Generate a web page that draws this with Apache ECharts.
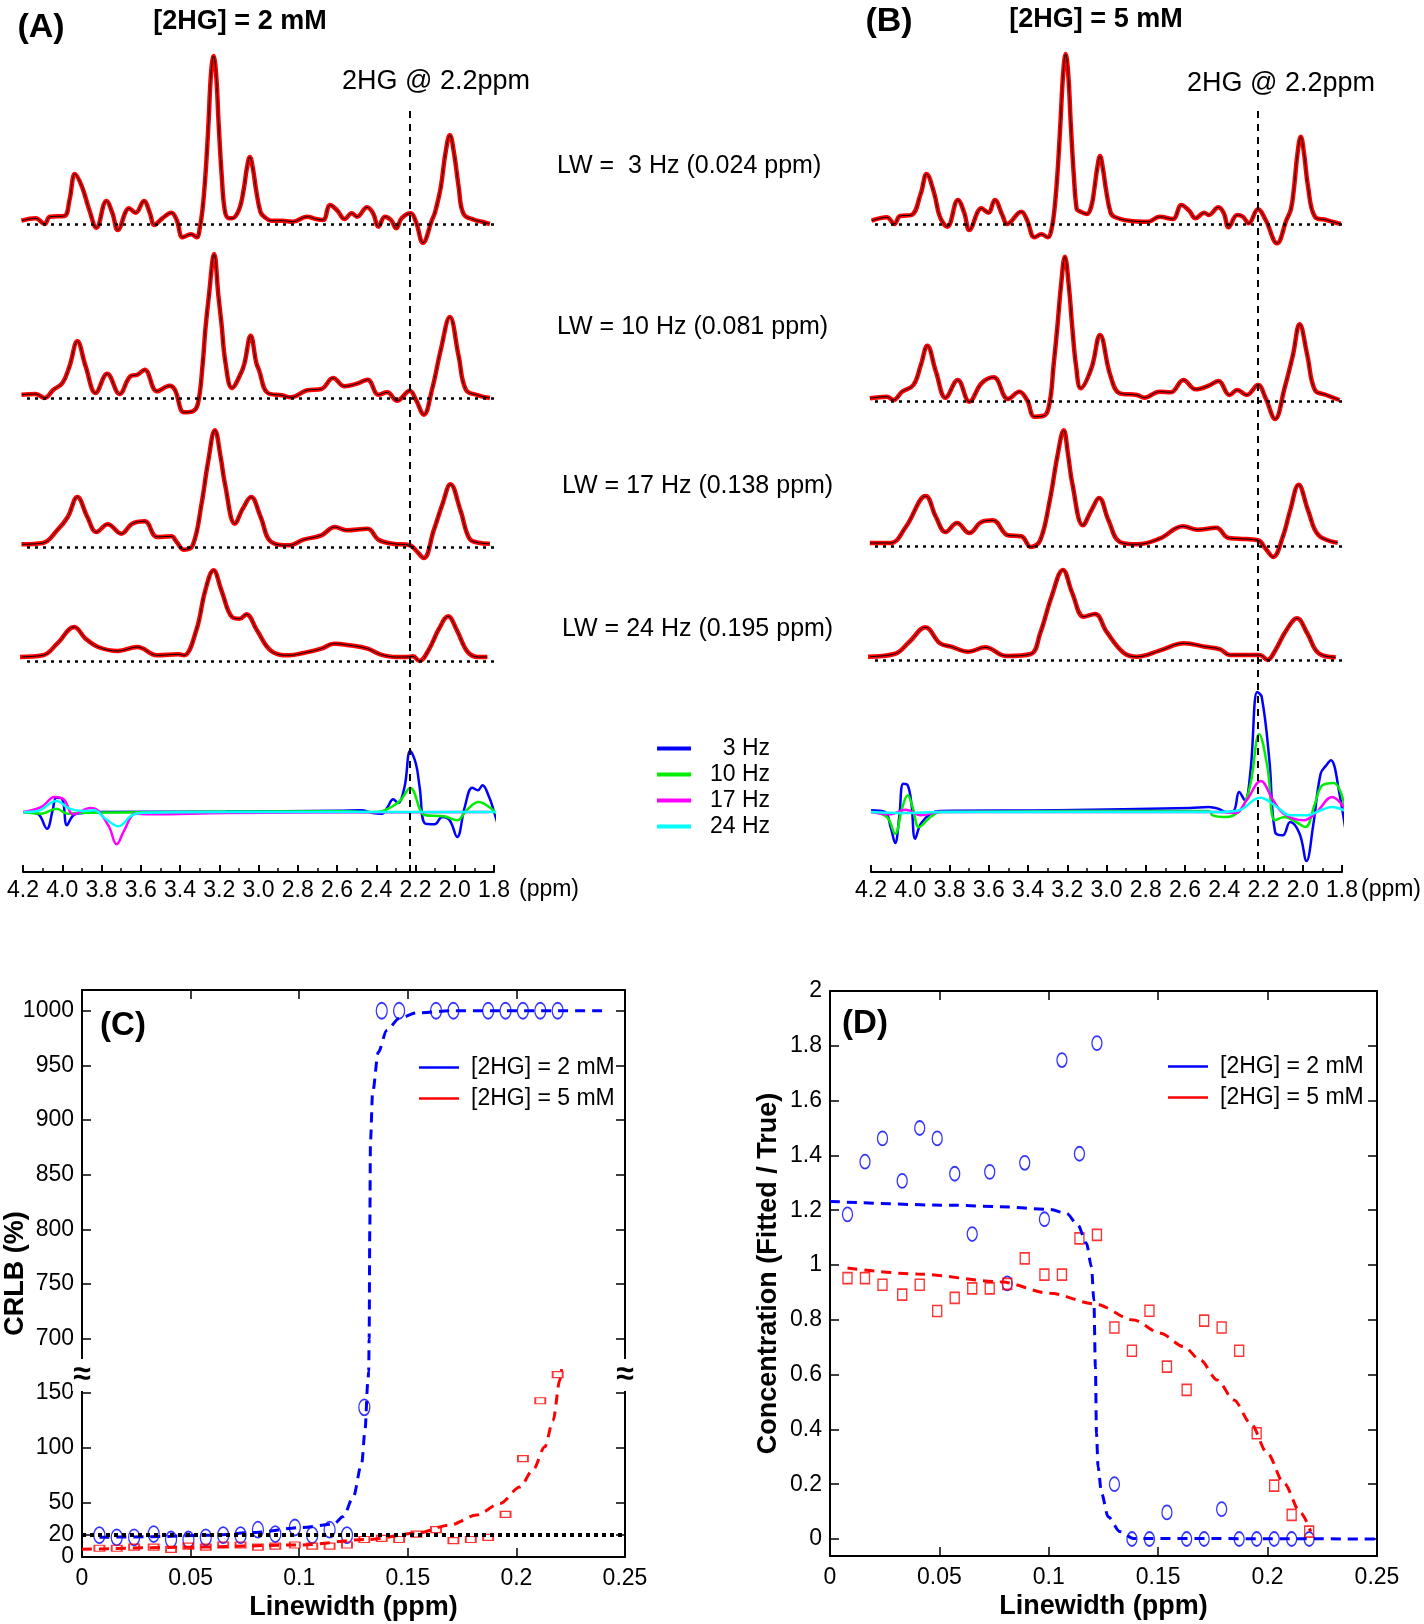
<!DOCTYPE html>
<html>
<head>
<meta charset="utf-8">
<title>2HG spectra, CRLB and concentration vs linewidth</title>
<script src="https://cdn.jsdelivr.net/npm/echarts@6.0.0/dist/echarts.min.js"></script>
<style>
  html, body { margin: 0; padding: 0; background: #fff; }
  #chart { width: 1424px; height: 1624px; }
</style>
</head>
<body>
<div id="chart"></div>
<script>
// ---------- data ----------
// spectra are [ppm, amplitude] pairs, amplitude in arbitrary units
const PPM_MIN = 1.8
const PPM_MAX = 4.2
const HG_PPM = 2.225
const LW_LABELS = ['LW =  3 Hz (0.024 ppm)', 'LW = 10 Hz (0.081 ppm)', 'LW = 17 Hz (0.138 ppm)', 'LW = 24 Hz (0.195 ppm)']
const DIFF_NAMES = ['3 Hz', '10 Hz', '17 Hz', '24 Hz']

// (A) [2HG] = 2 mM
const A_LW3 = [[4.208,3.3],[4.135,5.7],[4.090,0],[4.063,7.3],[3.990,8],[3.963,24],[3.935,50],[3.899,37],[3.862,14],[3.826,-3.7],[3.775,23],[3.744,10.7],[3.717,-6],[3.659,15.7],[3.626,11.3],[3.584,23],[3.553,10.7],[3.531,-1],[3.490,5.7],[3.444,11.3],[3.417,4],[3.386,-13.3],[3.344,-10.3],[3.313,-13.3],[3.300,-5],[3.285,15],[3.270,50],[3.255,100],[3.242,150],[3.229,168],[3.216,150],[3.203,100],[3.188,50],[3.173,15],[3.155,6],[3.135,5.7],[3.100,14],[3.075,35],[3.060,55],[3.044,67],[3.028,55],[3.013,35],[2.990,12],[2.971,7.3],[2.935,3.3],[2.880,3.3],[2.826,2.3],[2.753,7.3],[2.707,5],[2.671,4],[2.635,19],[2.598,13.3],[2.562,5],[2.525,10.7],[2.498,7.3],[2.447,16.7],[2.416,10.7],[2.389,-2.7],[2.356,7.3],[2.325,4],[2.298,-4.3],[2.271,5.7],[2.225,10.7],[2.198,2.3],[2.162,-18.7],[2.116,4],[2.100,12],[2.071,37],[2.048,70],[2.025,89],[2.003,70],[1.980,37],[1.955,10],[1.898,4],[1.862,2.3],[1.821,0]]
const A_LW10 = [[4.208,3.3],[4.135,4],[4.090,0],[4.045,8.3],[3.999,15],[3.963,31.7],[3.923,56.7],[3.881,31.7],[3.830,5],[3.771,24.3],[3.708,4],[3.653,21.7],[3.617,23.3],[3.580,28.3],[3.517,6.7],[3.453,12.3],[3.426,8.3],[3.380,-14.3],[3.335,-13.3],[3.308,-5],[3.284,35],[3.271,68],[3.253,101.7],[3.226,144],[3.204,101.7],[3.189,75],[3.168,35],[3.135,10],[3.089,25],[3.071,35],[3.040,62.3],[3.011,35],[2.998,28.3],[2.953,5],[2.880,2.7],[2.835,0.7],[2.753,7.7],[2.680,9],[2.620,20],[2.562,11.7],[2.498,14.3],[2.444,18.3],[2.389,3.3],[2.344,5.7],[2.294,-2.7],[2.229,7.3],[2.198,-1.7],[2.158,-16.7],[2.116,8.3],[2.071,48.3],[2.025,81],[1.980,41.7],[1.943,8.3],[1.880,2.7],[1.821,0]]
const A_LW17 = [[4.208,2.7],[4.099,4],[4.026,16.7],[3.972,30],[3.923,50],[3.872,30],[3.826,15],[3.768,22.7],[3.699,13.3],[3.644,23.3],[3.580,25.7],[3.517,10],[3.444,10.7],[3.417,5],[3.380,-2.7],[3.335,1.7],[3.290,43.3],[3.257,85],[3.222,116.7],[3.193,90],[3.171,63.3],[3.120,23.3],[3.080,38.3],[3.038,50],[2.989,30],[2.935,5],[2.844,1.7],[2.771,7.3],[2.680,11.7],[2.611,20],[2.553,16.7],[2.444,18.3],[2.389,7.3],[2.316,3.3],[2.229,1.7],[2.198,-3.3],[2.158,-11],[2.107,16.7],[2.062,43.3],[2.022,62.7],[1.971,36.7],[1.925,8.3],[1.880,4.3],[1.821,3.3]]
const A_LW24 = [[4.235,4],[4.099,5.7],[4.026,17.3],[3.939,34],[3.881,22.3],[3.817,14],[3.717,10],[3.617,14],[3.517,5.7],[3.408,6.7],[3.380,5.7],[3.317,30.7],[3.271,70.7],[3.229,90.7],[3.189,70.7],[3.135,44],[3.095,42.3],[3.062,46.7],[3.008,30.7],[2.935,10],[2.844,5.7],[2.771,8],[2.680,12.3],[2.616,17.3],[2.535,15.7],[2.444,12.3],[2.380,6.7],[2.298,4],[2.244,4],[2.213,4.7],[2.180,0],[2.134,10.7],[2.080,32.3],[2.034,44.7],[1.989,30.7],[1.934,9],[1.880,4],[1.834,4]]
const A_DIFF_3HZ = [[4.198,0],[4.126,-1.7],[4.078,-16.7],[4.049,1.7],[4.030,14.3],[4.001,13.3],[3.976,-13.3],[3.943,-3.3],[3.895,-1],[3.838,0],[3.167,0.5],[2.592,1.3],[2.477,1.7],[2.419,-1],[2.371,-1.7],[2.342,5],[2.314,12.7],[2.289,9],[2.256,25],[2.227,61],[2.198,48.3],[2.179,25],[2.150,-11.7],[2.103,-12.3],[2.064,-5],[2.026,-8.3],[1.988,-25],[1.949,5],[1.911,24.3],[1.882,21.7],[1.859,26.7],[1.825,15],[1.802,1.7],[1.777,-15]]
const A_DIFF_10HZ = [[4.198,0],[4.106,-1.7],[4.030,3.3],[3.972,-1.7],[3.895,-0.7],[2.592,0.7],[2.400,0],[2.323,5],[2.275,12],[2.227,24],[2.150,-3.3],[2.055,-4.3],[1.988,-8.3],[1.940,1.7],[1.878,10],[1.825,5],[1.786,-1.7]]
const A_DIFF_17HZ = [[4.198,0],[4.106,5],[4.039,15],[3.991,12.3],[3.943,-2.3],[3.857,4],[3.819,1.7],[3.761,-15],[3.723,-32.3],[3.684,-18.3],[3.627,-1.7],[3.550,-2.3],[3.167,-1],[1.825,0]]
const A_DIFF_24HZ = [[4.198,0],[4.126,1],[4.030,11],[3.963,3.3],[3.895,1],[3.838,1.7],[3.780,-6.7],[3.713,-14.3],[3.646,-3.3],[3.589,-0.7],[3.167,0],[1.777,0]]

// (B) [2HG] = 5 mM
const B_LW3 = [[4.197,3.3],[4.119,6.7],[4.081,0],[4.052,8],[3.994,9],[3.946,30.7],[3.917,50],[3.878,30.7],[3.849,7.3],[3.811,-2.7],[3.757,24],[3.724,10.7],[3.699,-6],[3.637,15.7],[3.602,11.3],[3.569,24],[3.531,9],[3.506,0],[3.434,12.3],[3.405,4],[3.367,-13.3],[3.332,-10.3],[3.299,-13.3],[3.280,-5],[3.265,15],[3.250,50],[3.235,100],[3.221,150],[3.208,170],[3.195,150],[3.182,100],[3.167,50],[3.152,15],[3.140,13],[3.100,10],[3.077,18],[3.062,35],[3.048,55],[3.033,68],[3.018,55],[3.003,35],[2.980,12],[2.961,7.3],[2.884,3.3],[2.788,2.3],[2.730,7.3],[2.662,5],[2.618,19],[2.579,13.3],[2.546,5.7],[2.502,11.3],[2.479,9],[2.430,16.7],[2.402,10.7],[2.378,-3.3],[2.334,9],[2.305,7.3],[2.276,0.7],[2.228,14.7],[2.189,4],[2.131,-19.3],[2.083,4],[2.060,15],[2.044,37.3],[2.027,70],[2.010,87.3],[1.993,70],[1.973,37.3],[1.938,7.3],[1.880,4],[1.807,0]]
const B_LW10 = [[4.206,2.7],[4.119,4.3],[4.085,1],[4.042,9.3],[3.984,16],[3.946,36],[3.913,55.3],[3.869,29.3],[3.820,3.3],[3.758,21],[3.699,-0.7],[3.637,17.7],[3.575,23.7],[3.502,2],[3.444,9.3],[3.405,1],[3.367,-15.7],[3.318,-14.7],[3.289,-0.7],[3.270,35],[3.251,72.7],[3.232,115],[3.212,144.3],[3.192,115],[3.174,72.7],[3.155,35],[3.131,12.7],[3.077,32.7],[3.033,66],[2.981,26],[2.932,7.7],[2.845,6],[2.807,3.3],[2.730,9.3],[2.672,8.7],[2.608,21],[2.546,11.7],[2.479,15.3],[2.430,20],[2.373,6],[2.334,11],[2.286,6],[2.228,16],[2.189,2.7],[2.141,-18],[2.093,12.7],[2.050,46],[2.016,76.7],[1.977,46],[1.938,11],[1.880,6],[1.813,1]]
const B_LW17 = [[4.206,3],[4.100,3],[4.023,19],[3.921,50],[3.869,29],[3.820,14],[3.762,23],[3.699,13],[3.637,24],[3.579,25.7],[3.502,10.7],[3.434,9.7],[3.386,-1],[3.338,5.7],[3.289,45.7],[3.250,90],[3.218,115.7],[3.195,90],[3.174,62.3],[3.120,20.7],[3.077,35.7],[3.038,48],[2.990,25.7],[2.932,4],[2.845,1.7],[2.730,7.3],[2.610,19.7],[2.537,16.3],[2.440,18.3],[2.382,8.3],[2.324,7.3],[2.228,5.7],[2.189,-2.7],[2.151,-11],[2.102,9],[2.064,35.7],[2.021,61.3],[1.973,35.7],[1.919,10.7],[1.822,3.3]]
const B_LW24 = [[4.225,3.3],[4.081,6],[4.004,18.3],[3.923,32.7],[3.849,16.7],[3.791,13.3],[3.704,8.3],[3.618,12.7],[3.511,4],[3.386,6],[3.338,26.7],[3.280,63.3],[3.222,90],[3.174,66.7],[3.116,43.3],[3.058,46],[3.000,28.3],[2.913,7.3],[2.845,3.3],[2.730,9.3],[2.604,16.7],[2.498,13.3],[2.421,10.7],[2.373,5],[2.218,5],[2.180,0],[2.141,9.3],[2.083,30],[2.029,41.7],[1.977,26.7],[1.919,6.7],[1.832,2.7]]
const B_DIFF_3HZ = [[4.200,1.7],[4.129,0],[4.100,-15],[4.077,-31],[4.056,-5],[4.036,28.3],[4.013,26.7],[3.994,8.3],[3.975,-26.7],[3.946,-11.7],[3.897,-1.7],[3.849,1],[3.251,1.7],[2.575,4],[2.479,5],[2.430,3.3],[2.392,0],[2.353,1],[2.324,20],[2.295,11.7],[2.266,41.7],[2.232,120],[2.209,115],[2.170,51.7],[2.141,-20],[2.102,-23.3],[2.064,-10],[2.016,-21.7],[1.981,-49],[1.948,-15],[1.909,38.3],[1.880,46.7],[1.857,51.7],[1.813,18.3],[1.774,-30]]
const B_DIFF_10HZ = [[4.200,0],[4.119,-5],[4.077,-21.7],[4.042,3.3],[4.013,16.7],[3.988,5],[3.955,-15],[3.897,-5],[3.849,0],[2.479,1],[2.459,-3.3],[2.402,-5],[2.353,-3.3],[2.305,5],[2.266,28.3],[2.222,77.7],[2.180,45],[2.141,-8.3],[2.093,-5],[2.035,-10],[1.987,-15],[1.938,8.3],[1.900,26.7],[1.842,29],[1.774,-5]]
const B_DIFF_17HZ = [[4.200,0],[4.100,-2.3],[4.023,2.3],[3.946,-3.3],[3.849,0],[2.421,0],[2.344,-1],[2.286,11.7],[2.214,31],[2.151,11.7],[2.093,-2.3],[1.996,-8.3],[1.929,0],[1.851,15],[1.774,0]]
const B_DIFF_24HZ = [[4.200,0],[4.023,-1],[3.849,0],[2.421,0],[2.324,1.7],[2.218,14.3],[2.131,5],[2.064,-3.3],[1.977,-3.3],[1.909,1.7],[1.851,5],[1.774,0]]

// (C) and (D): linewidth (ppm) of each simulated spectrum
const LINEWIDTH = [0.008, 0.016, 0.024, 0.033, 0.041, 0.049, 0.057, 0.065, 0.073, 0.081, 0.089, 0.098, 0.106, 0.114, 0.122, 0.130, 0.138, 0.146, 0.154, 0.163, 0.171, 0.179, 0.187, 0.195, 0.203, 0.211, 0.219]
const CRLB_2MM = [20, 18, 18, 21, 16, 16, 18, 20, 20, 25, 21, 27, 20, 25, 20, 137, 1000, 1000, null, 1000, 1000, null, 1000, 1000, 1000, 1000, 1000]
const CRLB_5MM = [8, 8, 9, 9, 7, 10, 9, 11, 11, 9, 10, 11, 10, 10, 11, 16, 17, 16, 21, 25, 15, 16, 18, 39, 90, 143, 167]
const CRLB_FIT_2MM = [[0.008,18],[0.03,18.5],[0.06,20],[0.08,22.5],[0.1004,27],[0.1157,30],[0.1203,37],[0.1249,55],[0.1288,86],[0.1303,116],[0.1316,160],[0.132,170],[0.1322,700],[0.1325,800],[0.1328,880],[0.1338,925],[0.1364,962],[0.1403,982],[0.146,993],[0.154,998],[0.17,1000],[0.24,1000]]
const CRLB_FIT_5MM = [[0,7],[0.05,9],[0.1004,11],[0.1311,16],[0.1541,21.7],[0.1694,29.3],[0.1817,38.4],[0.1924,49],[0.2016,64],[0.2077,80],[0.2131,101],[0.2169,125],[0.22,162],[0.2208,172]]
const CRLB_LIMIT = 20
const CRLB_TICKS = [0, 20, 50, 100, 150, 700, 750, 800, 850, 900, 950, 1000]

const CONC_2MM = [1.185, 1.377, 1.462, 1.307, 1.50, 1.462, 1.333, 1.113, 1.34, 0.933, 1.373, 1.167, 1.748, 1.406, 1.81, 0.20, 0, 0, 0.097, 0, 0, 0.109, 0, 0, 0, 0, 0]
const CONC_5MM = [0.952, 0.952, 0.928, 0.892, 0.928, 0.832, 0.88, 0.915, 0.915, 0.931, 1.024, 0.965, 0.965, 1.097, 1.11, 0.772, 0.687, 0.833, 0.629, 0.544, 0.797, 0.772, 0.687, 0.386, 0.195, 0.088, 0.027]
const CONC_FIT_2MM = [[0,1.232],[0.0555,1.218],[0.0777,1.213],[0.1005,1.203],[0.108,1.189],[0.1133,1.146],[0.1172,1.079],[0.1195,0.994],[0.1206,0.872],[0.1213,0.629],[0.1218,0.386],[0.1225,0.264],[0.1241,0.167],[0.1271,0.0815],[0.1325,0.027],[0.1386,0.002],[0.25,0]]
const CONC_FIT_5MM = [[0.008,0.989],[0.040,0.967],[0.0777,0.939],[0.1005,0.897],[0.1211,0.858],[0.1388,0.799],[0.151,0.751],[0.1617,0.702],[0.1693,0.653],[0.177,0.58],[0.1846,0.507],[0.1923,0.422],[0.1999,0.313],[0.2075,0.203],[0.2152,0.094],[0.2197,0.027]]
const CONC_TICKS = [0, 0.2, 0.4, 0.6, 0.8, 1, 1.2, 1.4, 1.6, 1.8, 2]

// ---------- chart ----------
const FONT = "'Liberation Sans', Arial, Helvetica, sans-serif"
const BLUE = '#0000ff'
const RED = '#ff0000'
const DIFF_COLORS = ['#0000ff', '#00ee00', '#ff00ff', '#00ffff']
const PANEL_W = 471

const grid = []
const xAxis = []
const yAxis = []
const series = []

function addPpmGrid(box, yMin, yMax, xExtra) {
  grid.push(Object.assign({ outerBoundsMode: 'none', containLabel: false, show: false }, box))
  const gi = grid.length - 1
  xAxis.push(Object.assign({ gridIndex: gi, type: 'value', min: PPM_MIN, max: PPM_MAX, inverse: true, show: false }, xExtra || {}))
  yAxis.push({ gridIndex: gi, type: 'value', min: yMin, max: yMax, show: false })
  return { x: xAxis.length - 1, y: yAxis.length - 1 }
}

function spectraPanel(left, baselines, spectra, diffs, tag) {
  // dashed marker at the 2HG resonance, over the whole stack
  const ov = addPpmGrid({ left, top: 110, width: PANEL_W, height: 762 }, 0, 1)
  series.push({
    name: tag + ' marker', type: 'line', xAxisIndex: ov.x, yAxisIndex: ov.y, data: [], silent: true,
    markLine: { symbol: 'none', silent: true, label: { show: false }, lineStyle: { color: '#000', type: [7, 6], width: 2 }, data: [{ xAxis: HG_PPM }] }
  })
  spectra.forEach((spec, i) => {
    const ax = addPpmGrid({ left, top: baselines[i] - 180, width: PANEL_W, height: 210 }, -30, 180)
    series.push({
      name: tag + ' fit ' + i, type: 'line', xAxisIndex: ax.x, yAxisIndex: ax.y, data: spec,
      smooth: 0.4, showSymbol: false, clip: false, silent: true,
      lineStyle: { color: RED, width: 4.5 },
      markLine: { symbol: 'none', silent: true, label: { show: false }, lineStyle: { color: '#000', type: [3, 5], width: 2.5 }, data: [{ yAxis: 0 }] }
    })
    series.push({
      name: tag + ' data ' + i, type: 'line', xAxisIndex: ax.x, yAxisIndex: ax.y, data: spec,
      smooth: 0.4, showSymbol: false, clip: false, silent: true,
      lineStyle: { color: '#000', width: 1 }
    })
  })
  const dx = addPpmGrid({ left, top: 682, width: PANEL_W, height: 190 }, -60, 130, {
    show: true, interval: 0.2,
    axisLine: { show: true, onZero: false, lineStyle: { color: '#000', width: 2 } },
    axisTick: { show: true, inside: true, length: 7, lineStyle: { color: '#000', width: 2 } },
    minorTick: { show: true, splitNumber: 2, length: 4, lineStyle: { color: '#000', width: 1.5 } },
    axisLabel: { color: '#000', fontSize: 23, fontFamily: FONT, margin: 7, formatter: v => v.toFixed(1) },
    splitLine: { show: false }
  })
  diffs.forEach((d, i) => {
    series.push({
      name: DIFF_NAMES[i], type: 'line', xAxisIndex: dx.x, yAxisIndex: dx.y, data: d,
      smooth: 0.4, showSymbol: false, clip: false, silent: true, color: DIFF_COLORS[i],
      lineStyle: { color: DIFF_COLORS[i], width: 2.5 }
    })
  })
}

spectraPanel(23, [224, 398, 547, 661], [A_LW3, A_LW10, A_LW17, A_LW24], [A_DIFF_3HZ, A_DIFF_10HZ, A_DIFF_17HZ, A_DIFF_24HZ], 'A')
spectraPanel(871, [224, 401, 546, 660], [B_LW3, B_LW10, B_LW17, B_LW24], [B_DIFF_3HZ, B_DIFF_10HZ, B_DIFF_17HZ, B_DIFF_24HZ], 'B')

// broken CRLB axis: values above the break are shifted down by 500
const crlbToAxis = v => (v >= 600 ? v - 500 : v)
const crlbLabel = v => String(v > 175 ? v + 500 : v)

const frameLine = { show: true, onZero: false, lineStyle: { color: '#000', width: 2 } }
const tickStyle = { color: '#000', width: 1.5 }
const labelStyle = { color: '#000', fontSize: 23, fontFamily: FONT }
const titleStyle = { color: '#000', fontSize: 27, fontWeight: 'bold', fontFamily: FONT }

function scatterPanel(box, yMin, yMax, yTicks, yLabel, yName, yGap) {
  grid.push(Object.assign({ outerBoundsMode: 'none', containLabel: false, show: false }, box))
  const gi = grid.length - 1
  xAxis.push({
    gridIndex: gi, type: 'value', min: 0, max: 0.25, interval: 0.05, position: 'bottom',
    axisLine: frameLine, axisTick: { show: true, inside: true, length: 9, lineStyle: tickStyle },
    axisLabel: Object.assign({ margin: 10 }, labelStyle), splitLine: { show: false },
    name: 'Linewidth (ppm)', nameLocation: 'middle', nameGap: 37, nameMoveOverlap: false, nameTextStyle: titleStyle
  })
  const xi = xAxis.length - 1
  xAxis.push({
    gridIndex: gi, type: 'value', min: 0, max: 0.25, interval: 0.05, position: 'top',
    axisLine: frameLine, axisTick: { show: true, inside: true, length: 9, lineStyle: tickStyle },
    axisLabel: { show: false }, splitLine: { show: false }
  })
  // the lowest tick label sits on its own axis so that it is not dropped when it crowds the next one
  yAxis.push({
    gridIndex: gi, type: 'value', min: yMin, max: yMax, position: 'left',
    axisLine: frameLine,
    axisTick: { show: true, inside: true, length: 9, lineStyle: tickStyle, customValues: yTicks },
    axisLabel: Object.assign({ margin: 8, customValues: yTicks.slice(1), formatter: yLabel, hideOverlap: false }, labelStyle),
    splitLine: { show: false },
    name: yName, nameLocation: 'middle', nameGap: yGap, nameMoveOverlap: false, nameTextStyle: titleStyle
  })
  const yi = yAxis.length - 1
  yAxis.push({
    gridIndex: gi, type: 'value', min: yMin, max: yMax, position: 'left',
    axisLine: { show: false }, axisTick: { show: false }, splitLine: { show: false },
    axisLabel: Object.assign({ margin: 8, customValues: yTicks.slice(0, 1), formatter: yLabel }, labelStyle)
  })
  yAxis.push({
    gridIndex: gi, type: 'value', min: yMin, max: yMax, position: 'right',
    axisLine: frameLine,
    axisTick: { show: true, inside: true, length: 9, lineStyle: tickStyle, customValues: yTicks },
    axisLabel: { show: false }, splitLine: { show: false }
  })
  return { x: xi, y: yi }
}

function fitLine(ax, name, color, data) {
  return {
    name, type: 'line', xAxisIndex: ax.x, yAxisIndex: ax.y, data, color,
    smooth: 0.3, smoothMonotone: 'x', showSymbol: false, silent: true,
    lineStyle: { color, width: 3, type: [10, 7] }
  }
}

function points(ax, name, color, symbol, size, values, toAxis) {
  const data = []
  LINEWIDTH.forEach((x, i) => {
    if (values[i] != null) data.push([x, toAxis(values[i])])
  })
  return {
    name, type: 'scatter', xAxisIndex: ax.x, yAxisIndex: ax.y, data, symbol, symbolSize: size, silent: true,
    itemStyle: { color: 'rgba(0,0,0,0)', borderColor: color, borderWidth: 1.5 }
  }
}

// (C) CRLB
const cAx = scatterPanel({ left: 82, top: 990, width: 543, height: 567 }, 0, 519,
  CRLB_TICKS.map(crlbToAxis), crlbLabel, 'CRLB (%)', 53)
series.push({
  name: 'CRLB limit', type: 'line', xAxisIndex: cAx.x, yAxisIndex: cAx.y, data: [], silent: true,
  markLine: { symbol: 'none', silent: true, label: { show: false }, lineStyle: { color: '#000', type: [4, 4], width: 4 }, data: [{ yAxis: CRLB_LIMIT }] }
})
series.push(fitLine(cAx, '[2HG] = 2 mM', BLUE, CRLB_FIT_2MM.map(p => [p[0], crlbToAxis(p[1])])))
series.push(fitLine(cAx, '[2HG] = 5 mM', RED, CRLB_FIT_5MM.map(p => [p[0], crlbToAxis(p[1])])))
series.push(points(cAx, 'CRLB 2 mM', BLUE, 'circle', [11, 16], CRLB_2MM, crlbToAxis))
series.push(points(cAx, 'CRLB 5 mM', RED, 'rect', [10, 6], CRLB_5MM, crlbToAxis))

// (D) fitted / true concentration
const dAx = scatterPanel({ left: 830, top: 991, width: 547, height: 565 }, -0.062, 2,
  CONC_TICKS, v => String(v), 'Concentration (Fitted / True)', 48)
series.push(fitLine(dAx, '[2HG] = 2 mM', BLUE, CONC_FIT_2MM))
series.push(fitLine(dAx, '[2HG] = 5 mM', RED, CONC_FIT_5MM))
series.push(points(dAx, 'Conc 2 mM', BLUE, 'circle', [10, 14], CONC_2MM, v => v))
series.push(points(dAx, 'Conc 5 mM', RED, 'rect', [9, 11], CONC_5MM, v => v))

const concLegend = (left, top) => ({
  data: ['[2HG] = 2 mM', '[2HG] = 5 mM'], left, top, orient: 'vertical',
  icon: 'rect', itemWidth: 40, itemHeight: 2.5, itemGap: 8, selectedMode: false,
  formatter: n => '{t|' + n + '}',
  textStyle: { color: '#000', rich: { t: { fontSize: 23, fontFamily: FONT, color: '#000', padding: [0, 0, 0, 7], lineHeight: 26 } } }
})

const texts = [
  { text: '(A)', x: 41, y: 28, font: 'bold 34px ' + FONT },
  { text: '[2HG] = 2 mM', x: 240, y: 22, font: 'bold 27px ' + FONT },
  { text: '2HG @ 2.2ppm', x: 436, y: 82, font: '27px ' + FONT },
  { text: '(B)', x: 889, y: 22, font: 'bold 34px ' + FONT },
  { text: '[2HG] = 5 mM', x: 1096, y: 20, font: 'bold 27px ' + FONT },
  { text: '2HG @ 2.2ppm', x: 1281, y: 84, font: '27px ' + FONT },
  { text: LW_LABELS[0], x: 557, y: 166, font: '25px ' + FONT, align: 'left' },
  { text: LW_LABELS[1], x: 557, y: 327, font: '25px ' + FONT, align: 'left' },
  { text: LW_LABELS[2], x: 562, y: 486, font: '25px ' + FONT, align: 'left' },
  { text: LW_LABELS[3], x: 562, y: 629, font: '25px ' + FONT, align: 'left' },
  { text: '(ppm)', x: 549, y: 890, font: '23px ' + FONT },
  { text: '(ppm)', x: 1391, y: 890, font: '23px ' + FONT },
  { text: '(C)', x: 123, y: 1026, font: 'bold 33px ' + FONT },
  { text: '(D)', x: 865, y: 1024, font: 'bold 33px ' + FONT },
  { text: '\u2248', x: 82, y: 1375, font: 'bold 32px ' + FONT, bg: '#fff' },
  { text: '\u2248', x: 625, y: 1375, font: 'bold 32px ' + FONT, bg: '#fff' }
]

const option = {
  backgroundColor: '#fff',
  animation: false,
  grid, xAxis, yAxis, series,
  legend: [
    {
      data: DIFF_NAMES, left: 652, top: 732, orient: 'vertical',
      icon: 'rect', itemWidth: 34, itemHeight: 4, itemGap: 3, selectedMode: false,
      formatter: n => '{r|' + n + '}',
      textStyle: { color: '#000', rich: { r: { width: 74, align: 'right', fontSize: 23, fontFamily: FONT, color: '#000', lineHeight: 22 } } }
    },
    concLegend(414, 1051),
    concLegend(1163, 1050)
  ],
  graphic: texts.map(t => ({
    type: 'text', x: t.x, y: t.y, silent: true, z: 100,
    style: {
      text: t.text, font: t.font, fill: '#000',
      align: t.align || 'center', verticalAlign: 'middle',
      backgroundColor: t.bg, padding: t.bg ? [0, 1] : 0
    }
  }))
}

const chart = echarts.init(document.getElementById('chart'))
chart.setOption(option)
</script>
</body>
</html>
